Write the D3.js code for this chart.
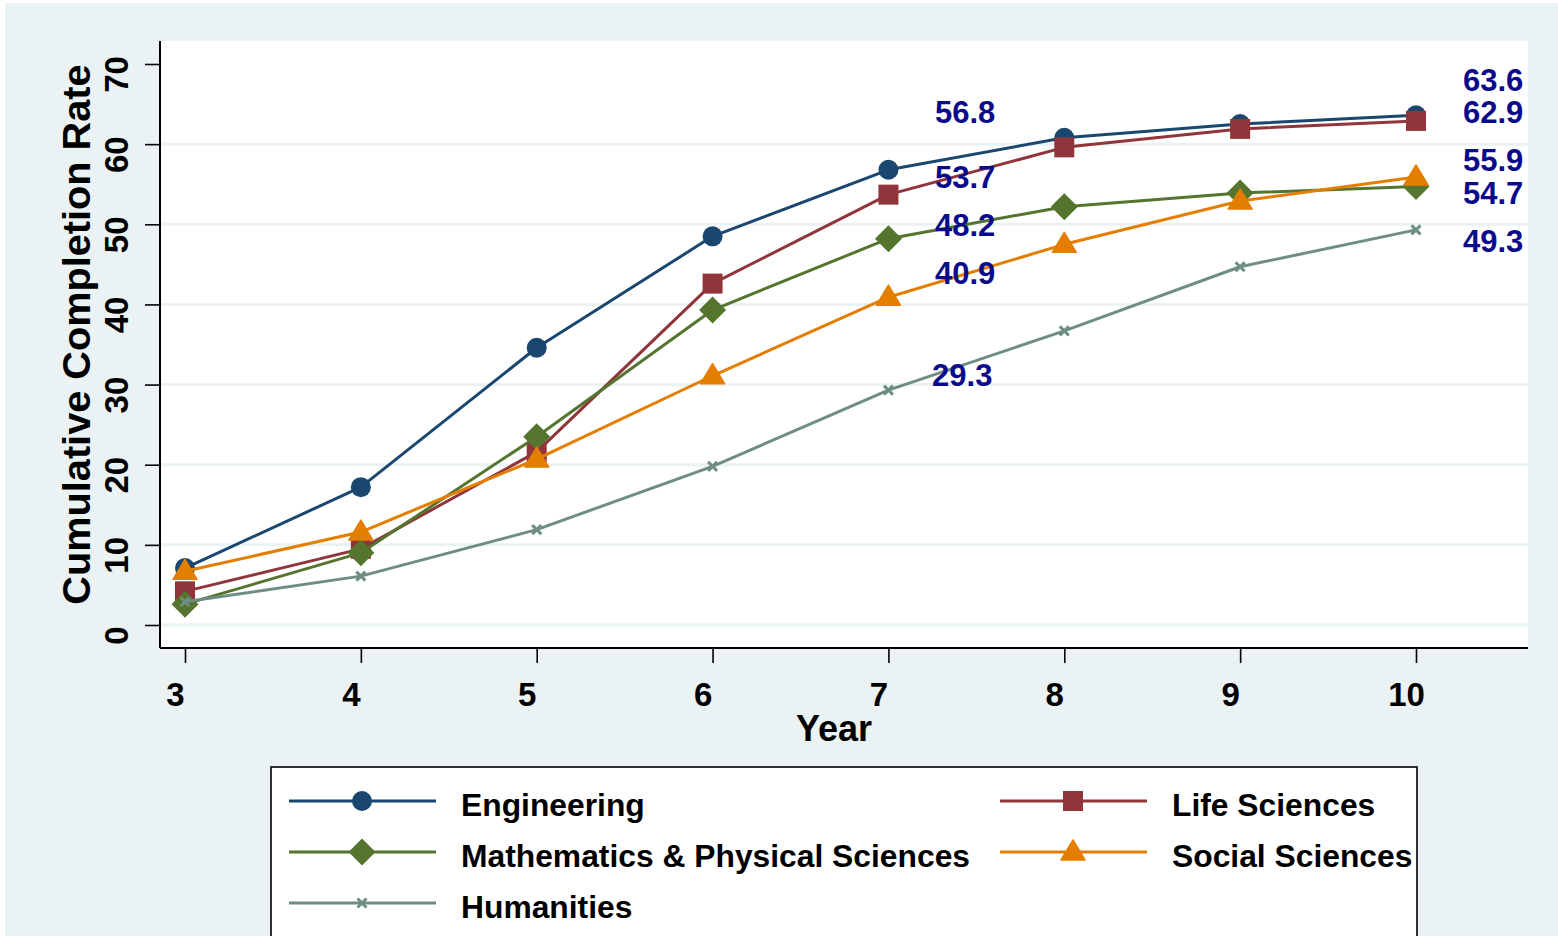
<!DOCTYPE html>
<html>
<head>
<meta charset="utf-8">
<script src="https://cdn.jsdelivr.net/npm/d3@7"></script>
<style>
  html, body { margin: 0; padding: 0; background: #ffffff; }
  svg { display: block; }
  text { font-family: "Liberation Sans", Arial, Helvetica, sans-serif; font-weight: bold; }
</style>
</head>
<body>
<svg id="chart" width="1558" height="936"></svg>
<script>
// ---------- data ----------
const years = [3, 4, 5, 6, 7, 8, 9, 10];
const seriesNames = ["Engineering", "Life Sciences", "Mathematics & Physical Sciences", "Social Sciences", "Humanities"];
const engineering = [7.1, 17.2, 34.6, 48.5, 56.8, 60.8, 62.5, 63.6];
const lifeSciences = [4.2, 9.5, 21.6, 42.6, 53.7, 59.6, 61.9, 62.9];
const mathPhys = [2.6, 9.0, 23.5, 39.3, 48.2, 52.2, 53.9, 54.7];
const socialSciences = [6.7, 11.6, 20.7, 31.1, 40.9, 47.5, 52.9, 55.9];
const humanities = [2.9, 6.1, 11.9, 19.8, 29.3, 36.7, 44.7, 49.3];
const seriesColors = ["#1a476f", "#90353b", "#55752f", "#e37e00", "#6e8e84"];
const seriesSymbols = ["circle", "square", "diamond", "triangle", "x"];
const yTicks = [0, 10, 20, 30, 40, 50, 60, 70];
const gridTicks = [0, 10, 20, 30, 40, 50, 60];
// value labels (text and the height, in data units, where each is written)
const labelsYear7 = ["56.8", "53.7", "48.2", "40.9", "29.3"];
const labelsYear7At = [63.9, 55.9, 49.9, 43.9, 31.1];
const labelsYear10 = ["63.6", "62.9", "55.9", "54.7", "49.3"];
const labelsYear10At = [67.9, 63.9, 57.9, 53.9, 47.9];
const labelYear7X = [7.265, 7.265, 7.265, 7.265, 7.248];
const labelYear10X = 10.267;

const allValues = [engineering, lifeSciences, mathPhys, socialSciences, humanities];

// ---------- layout ----------
const svg = d3.select("#chart");
const W = 1558, H = 936;
const plot = { left: 160, right: 1528, top: 41, bottom: 648 };
const x = d3.scaleLinear().domain([3, 10]).range([185, 1416]);
const y = d3.scaleLinear().domain([0, 70]).range([625, 64]);
const bg = "#eaf2f3";

svg.append("rect").attr("x", 5).attr("y", 3).attr("width", W - 5).attr("height", H - 3).attr("fill", bg);
svg.append("rect").attr("x", plot.left).attr("y", plot.top)
  .attr("width", plot.right - plot.left).attr("height", plot.bottom - plot.top).attr("fill", "#ffffff");

// grid
svg.append("g").selectAll("line").data(gridTicks).join("line")
  .attr("x1", plot.left).attr("x2", plot.right)
  .attr("y1", d => y(d)).attr("y2", d => y(d))
  .attr("stroke", bg).attr("stroke-width", 3);

// y axis
const yAxis = d3.axisLeft(y).tickValues(yTicks).tickSize(15).tickSizeOuter(0).tickFormat(d3.format("d"));
const gy = svg.append("g").attr("transform", `translate(${plot.left},0)`).call(yAxis);
gy.select(".domain").remove();
gy.selectAll(".tick line").attr("stroke", "#000").attr("stroke-width", 1.6);
gy.selectAll(".tick text")
  .attr("x", null).attr("dy", null)
  .attr("transform", "translate(-32,10) rotate(-90)")
  .attr("text-anchor", "middle")
  .attr("fill", "#000")
  .style("font-size", "33px");

// x axis
const xAxis = d3.axisBottom(x).tickValues(years).tickSize(15).tickSizeOuter(0).tickFormat(d3.format("d"));
const gx = svg.append("g").attr("transform", `translate(0,${plot.bottom})`).call(xAxis);
gx.select(".domain").remove();
gx.selectAll(".tick line").attr("stroke", "#000").attr("stroke-width", 1.6);
gx.selectAll(".tick text")
  .attr("y", 58).attr("dy", null).attr("x", -10)
  .attr("fill", "#000")
  .style("font-size", "33px");

// axis lines
svg.append("line").attr("x1", plot.left).attr("x2", plot.left).attr("y1", plot.top).attr("y2", plot.bottom)
  .attr("stroke", "#000").attr("stroke-width", 2);
svg.append("line").attr("x1", plot.left).attr("x2", plot.right).attr("y1", plot.bottom).attr("y2", plot.bottom)
  .attr("stroke", "#000").attr("stroke-width", 2);

// axis titles
svg.append("text").attr("transform", `translate(90,${(plot.top + plot.bottom) / 2 - 10}) rotate(-90)`)
  .attr("text-anchor", "middle").style("font-size", "39.7px").attr("fill", "#000")
  .text("Cumulative Completion Rate");
svg.append("text").attr("x", (plot.left + plot.right) / 2 - 10).attr("y", 741)
  .attr("text-anchor", "middle").style("font-size", "36px").attr("fill", "#000")
  .text("Year");

// marker drawing
function drawMarker(g, type, color, cx, cy, s) {
  s = s || 1;
  if (type === "circle") {
    g.append("circle").attr("cx", cx).attr("cy", cy).attr("r", 10 * s).attr("fill", color);
  } else if (type === "square") {
    g.append("rect").attr("x", cx - 10 * s).attr("y", cy - 10 * s).attr("width", 20 * s).attr("height", 20 * s).attr("fill", color);
  } else if (type === "diamond") {
    const r = 13.5 * s;
    g.append("path").attr("d", `M${cx},${cy - r}L${cx + r},${cy}L${cx},${cy + r}L${cx - r},${cy}Z`).attr("fill", color);
  } else if (type === "triangle") {
    const w = 12 * s, h = 20 * s;
    g.append("path").attr("d", `M${cx},${cy - h * 0.6}L${cx + w},${cy + h * 0.4}L${cx - w},${cy + h * 0.4}Z`)
      .attr("fill", color).attr("stroke", color).attr("stroke-width", 1.5).attr("stroke-linejoin", "round");
  } else if (type === "x") {
    const r = 4.5 * s;
    g.append("path").attr("d", `M${cx - r},${cy - r}L${cx + r},${cy + r}M${cx - r},${cy + r}L${cx + r},${cy - r}`)
      .attr("stroke", color).attr("stroke-width", 3).attr("fill", "none");
  }
}

// series
const line = d3.line().x((d, i) => x(years[i])).y(d => y(d));
allValues.forEach((vals, k) => {
  const g = svg.append("g");
  g.append("path").datum(vals).attr("d", line).attr("fill", "none")
    .attr("stroke", seriesColors[k]).attr("stroke-width", 3).attr("stroke-linejoin", "round");
  vals.forEach((v, i) => drawMarker(g, seriesSymbols[k], seriesColors[k], x(years[i]), y(v)));
});

// value labels
const labColor = "#0a0a8c";
svg.append("g").selectAll("text").data(labelsYear7).join("text")
  .attr("x", (d, i) => x(labelYear7X[i])).attr("y", (d, i) => y(labelsYear7At[i]))
  .attr("dominant-baseline", "central").attr("fill", labColor).style("font-size", "31px")
  .text(d => d);
svg.append("g").selectAll("text").data(labelsYear10).join("text")
  .attr("x", x(labelYear10X)).attr("y", (d, i) => y(labelsYear10At[i]))
  .attr("dominant-baseline", "central").attr("fill", labColor).style("font-size", "31px")
  .text(d => d);

// legend
svg.append("rect").attr("x", 271).attr("y", 767).attr("width", 1146).attr("height", 200)
  .attr("fill", "#ffffff").attr("stroke", "#000").attr("stroke-width", 1.6);
const legendPos = [
  { lx: 289, ty: 0 }, { lx: 1000, ty: 0 },
  { lx: 289, ty: 1 }, { lx: 1000, ty: 1 },
  { lx: 289, ty: 2 }
];
seriesNames.forEach((name, k) => {
  const p = legendPos[k];
  const ly = 801 + p.ty * 51;
  const g = svg.append("g");
  g.append("line").attr("x1", p.lx).attr("x2", p.lx + 147).attr("y1", ly).attr("y2", ly)
    .attr("stroke", seriesColors[k]).attr("stroke-width", 3);
  drawMarker(g, seriesSymbols[k], seriesColors[k], p.lx + 73, ly);
  g.append("text").attr("x", p.lx + 172).attr("y", ly + 15).attr("fill", "#000")
    .style("font-size", "31.8px").text(name);
});
</script>
</body>
</html>
